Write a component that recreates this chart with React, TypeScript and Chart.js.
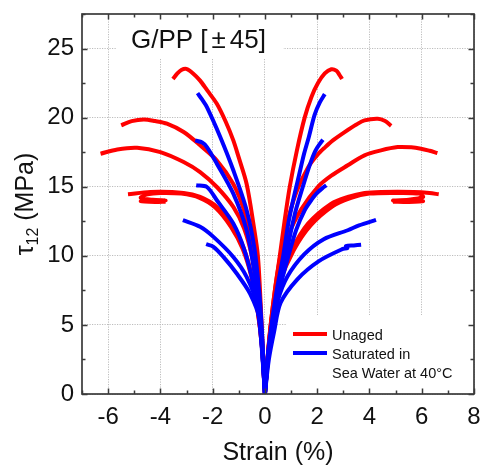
import React, { useEffect, useRef } from "react";
import { Chart, registerables } from "chart.js";

Chart.register(...registerables);

// ---- axis ranges / ticks ----
const X_MIN = -7;
const X_MAX = 8;
const Y_MIN = 0;
const Y_MAX = 27.5;
const X_STEP = 2;
const Y_STEP = 5;
const X_MINOR = 1;
const Y_MINOR = 2.5;

// ---- text ----
const PANEL_TITLE = ["G/PP [", "\u00B1", "45]"];
const X_TITLE = "Strain (%)";
const Y_TITLE_MAIN = "\u03C4";
const Y_TITLE_SUB = "12";
const Y_TITLE_REST = " (MPa)";
const LEGEND_UNAGED = "Unaged";
const LEGEND_AGED = ["Saturated in", "Sea Water at 40\u00B0C"];

const RED = "#ff0000";
const BLUE = "#0000ff";

type P = [number, number];

// ---- Unaged specimens (red): right = positive strain, left = negative strain ----
const unagedA_R: P[] = [[0, 0], [0.12, 3], [0.22, 5], [0.38, 7.5], [0.57, 10], [0.75, 12.5], [0.95, 15], [1.22, 17.6], [1.52, 20], [1.78, 21.5], [2.03, 22.5], [2.29, 23.2], [2.54, 23.5], [2.73, 23.4], [2.85, 23.1], [2.95, 22.8]];
const unagedB_R: P[] = [[0, 0], [0.14, 3.5], [0.28, 6], [0.5, 9], [0.8, 12], [1.2, 14.6], [1.65, 16.4], [2.03, 17.35], [2.3, 17.85], [2.6, 18.35], [3.05, 18.95], [3.5, 19.5], [3.81, 19.8], [4.32, 19.92], [4.6, 19.75], [4.83, 19.4]];
const unagedC_R: P[] = [[0, 0], [0.15, 3.5], [0.3, 6], [0.55, 9], [0.9, 11.5], [1.4, 13.4], [2.03, 15.0], [2.54, 15.8], [3.17, 16.55], [3.81, 17.27], [4.44, 17.63], [5.08, 17.87], [5.6, 17.85], [5.97, 17.75], [6.3, 17.6], [6.6, 17.44]];
const unagedD_R: P[] = [[0, 0], [0.15, 3.5], [0.3, 6], [0.51, 8], [1.02, 10.4], [1.65, 12.33], [2.54, 13.78], [3.17, 14.26], [3.81, 14.55], [4.44, 14.62], [5.71, 14.62], [6.3, 14.55], [6.65, 14.45]];
const unagedE_R: P[] = [[0, 0], [0.16, 3.5], [0.33, 6], [0.55, 8], [1.1, 10.4], [1.75, 12.2], [2.6, 13.6], [3.3, 14.2], [4.0, 14.5], [5.0, 14.55], [5.9, 14.5], [6.05, 14.25], [5.5, 14.05], [4.9, 14.0], [5.6, 14.0], [6.05, 13.95], [5.5, 13.9], [4.9, 13.92]];

const unagedA_L: P[] = [[0, 0], [-0.08, 3], [-0.15, 6], [-0.27, 10], [-0.44, 12.3], [-0.7, 15.2], [-1.0, 17.1], [-1.21, 18.35], [-1.5, 19.7], [-1.84, 21.0], [-2.2, 21.95], [-2.48, 22.68], [-2.75, 23.2], [-3.01, 23.53], [-3.2, 23.45], [-3.35, 23.2], [-3.52, 22.8]];
const unagedB_L: P[] = [[0, 0], [-0.12, 4.5], [-0.25, 8], [-0.5, 11], [-0.8, 13.3], [-1.21, 15.2], [-1.84, 16.9], [-2.48, 18.0], [-3.11, 18.96], [-3.75, 19.56], [-4.2, 19.75], [-4.63, 19.87], [-5.1, 19.75], [-5.5, 19.44]];
const unagedC_L: P[] = [[0, 0], [-0.12, 4], [-0.27, 7.5], [-0.5, 10], [-0.8, 12], [-1.21, 13.54], [-1.84, 14.98], [-2.48, 16.06], [-3.11, 16.79], [-4.0, 17.51], [-4.89, 17.82], [-5.65, 17.7], [-6.29, 17.39]];
const unagedD_L: P[] = [[0, 0], [-0.12, 3.5], [-0.27, 6], [-0.5, 8.5], [-0.8, 10.5], [-1.21, 12.1], [-1.84, 13.54], [-2.48, 14.26], [-3.11, 14.55], [-4.38, 14.62], [-5.24, 14.45]];
const unagedE_L: P[] = [[0, 0], [-0.12, 3.5], [-0.28, 6], [-0.52, 8.5], [-0.85, 10.5], [-1.3, 12.1], [-1.9, 13.5], [-2.5, 14.2], [-3.2, 14.5], [-4.0, 14.55], [-4.5, 14.45], [-4.75, 14.2], [-4.3, 14.05], [-3.8, 14.0], [-4.3, 13.98], [-4.75, 13.95], [-4.2, 13.9], [-3.8, 13.92]];

// ---- Saturated specimens (blue) ----
const agedA_R: P[] = [[0, 0], [0.12, 3], [0.25, 5], [0.45, 7.5], [0.7, 10], [0.89, 12.3], [1.1, 14.2], [1.3, 15.8], [1.5, 17.4], [1.68, 18.6], [1.9, 20.2], [2.1, 21.1], [2.29, 21.7]];
const agedB_R: P[] = [[0, 0], [0.13, 3], [0.28, 5], [0.5, 7.5], [0.8, 10], [1.14, 13], [1.45, 15], [1.72, 16.6], [1.93, 17.6], [2.1, 18.1], [2.22, 18.4]];
const agedC_R: P[] = [[0, 0], [0.14, 3], [0.3, 5], [0.55, 7.5], [0.9, 10], [1.2, 11.9], [1.52, 13.3], [1.8, 14.1], [1.97, 14.5], [2.2, 14.9], [2.35, 15.1]];
const agedD_R: P[] = [[0, 0], [0.15, 3], [0.32, 5], [0.5, 6.8], [0.86, 8.5], [1.5, 10.1], [2.25, 11.2], [3.17, 11.85], [3.6, 12.2], [4.25, 12.6]];
const agedE_R: P[] = [[0, 0], [0.15, 2.5], [0.35, 4.5], [0.6, 6.6], [1.24, 8.3], [2.05, 9.6], [2.98, 10.5], [3.15, 10.55], [3.1, 10.7], [3.4, 10.75], [3.68, 10.8]];

const agedA_L: P[] = [[0, 0], [-0.1, 4], [-0.2, 7], [-0.4, 10.5], [-0.7, 13.3], [-1.21, 16.19], [-1.71, 18.6], [-2.22, 20.76], [-2.4, 21.3], [-2.58, 21.77]];
const agedB_L: P[] = [[0, 0], [-0.1, 3], [-0.2, 6], [-0.42, 9], [-0.7, 11.85], [-1.21, 14.5], [-1.84, 16.67], [-2.22, 17.87], [-2.4, 18.2], [-2.67, 18.35]];
const agedC_L: P[] = [[0, 0], [-0.1, 3], [-0.22, 5.5], [-0.45, 8], [-0.8, 10.5], [-1.21, 12.34], [-1.84, 14.02], [-2.22, 14.98], [-2.63, 15.1]];
const agedD_L: P[] = [[0, 0], [-0.15, 4], [-0.32, 6.55], [-0.7, 8.48], [-1.21, 9.92], [-1.97, 11.37], [-2.48, 12.1], [-3.14, 12.58]];
const agedE_L: P[] = [[0, 0], [-0.08, 3], [-0.19, 5.35], [-0.57, 7.27], [-1.08, 8.72], [-1.59, 9.92], [-1.97, 10.65], [-2.25, 10.84]];

const UNAGED_CURVES: P[][] = [unagedA_R, unagedB_R, unagedC_R, unagedD_R, unagedE_R, unagedA_L, unagedB_L, unagedC_L, unagedD_L, unagedE_L];
const AGED_CURVES: P[][] = [agedA_R, agedB_R, agedC_R, agedD_R, agedE_R, agedA_L, agedB_L, agedC_L, agedD_L, agedE_L];

const FONT = "'Liberation Sans', Arial, Helvetica, sans-serif";
const FRAME_COLOR = "#3a3a3a";
const GRID_COLOR = "#bdbdbd";

const decorPlugin = {
  id: "decor",
  beforeDatasetsDraw(chart: any) {
    const { ctx, chartArea: ca } = chart;
    ctx.save();
    ctx.fillStyle = "#ffffff";
    // panel title backdrop
    ctx.fillRect(ca.left + 35, ca.top, 166, 45);
    // legend backdrop
    ctx.fillRect(ca.left + 205, ca.bottom - 79, ca.right - ca.left - 205, 79);
    ctx.restore();
  },
  afterDraw(chart: any) {
    const { ctx, chartArea: ca, scales } = chart;
    const xs = scales.x;
    const ys = scales.y;
    ctx.save();
    // ticks (inward on all four sides)
    ctx.strokeStyle = FRAME_COLOR;
    ctx.lineWidth = 1.5;
    ctx.beginPath();
    for (let v = X_MIN; v <= X_MAX + 1e-9; v += X_MINOR) {
      const px = Math.round(xs.getPixelForValue(v)) + 0.5;
      const len = Math.abs(v % X_STEP) < 1e-9 ? 5.5 : 3.5;
      ctx.moveTo(px, ca.bottom);
      ctx.lineTo(px, ca.bottom - len);
      ctx.moveTo(px, ca.top);
      ctx.lineTo(px, ca.top + len);
    }
    for (let v = Y_MIN; v <= Y_MAX + 1e-9; v += Y_MINOR) {
      const py = Math.round(ys.getPixelForValue(v)) + 0.5;
      const len = Math.abs(v % Y_STEP) < 1e-9 ? 5.5 : 3.5;
      ctx.moveTo(ca.left, py);
      ctx.lineTo(ca.left + len, py);
      ctx.moveTo(ca.right, py);
      ctx.lineTo(ca.right - len, py);
    }
    ctx.stroke();
    // frame
    ctx.lineWidth = 1.7;
    ctx.strokeRect(ca.left, ca.top, ca.right - ca.left, ca.bottom - ca.top);

    // panel title
    ctx.fillStyle = "#111";
    ctx.font = `26px ${FONT}`;
    ctx.textBaseline = "alphabetic";
    let tx = ca.left + 49;
    const ty = ca.top + 34;
    ctx.fillText(PANEL_TITLE[0], tx, ty);
    tx += ctx.measureText(PANEL_TITLE[0]).width + 4;
    ctx.fillText(PANEL_TITLE[1], tx, ty);
    tx += ctx.measureText(PANEL_TITLE[1]).width + 4;
    ctx.fillText(PANEL_TITLE[2], tx, ty);

    // legend
    const lx = ca.left + 211;
    const ly1 = ca.bottom - 60;
    const ly2 = ca.bottom - 41;
    ctx.lineWidth = 4;
    ctx.strokeStyle = RED;
    ctx.beginPath();
    ctx.moveTo(lx, ly1);
    ctx.lineTo(lx + 34, ly1);
    ctx.stroke();
    ctx.strokeStyle = BLUE;
    ctx.beginPath();
    ctx.moveTo(lx, ly2);
    ctx.lineTo(lx + 34, ly2);
    ctx.stroke();
    ctx.fillStyle = "#111";
    ctx.font = `14.5px ${FONT}`;
    ctx.fillText(LEGEND_UNAGED, lx + 39, ly1 + 6);
    ctx.fillText(LEGEND_AGED[0], lx + 39, ly2 + 5.5);
    ctx.fillText(LEGEND_AGED[1], lx + 39, ly2 + 24.5);

    // y-axis title with subscript
    const cy = (ca.top + ca.bottom) / 2;
    ctx.translate(33, cy);
    ctx.rotate(-Math.PI / 2);
    const big = `25px ${FONT}`;
    const small = `16px ${FONT}`;
    ctx.font = big;
    const w1 = ctx.measureText(Y_TITLE_MAIN).width;
    const w3 = ctx.measureText(Y_TITLE_REST).width;
    ctx.font = small;
    const w2 = ctx.measureText(Y_TITLE_SUB).width;
    let sx = -(w1 + w2 + w3) / 2;
    ctx.font = big;
    ctx.fillText(Y_TITLE_MAIN, sx, 0);
    sx += w1;
    ctx.font = small;
    ctx.fillText(Y_TITLE_SUB, sx, 5);
    sx += w2;
    ctx.font = big;
    ctx.fillText(Y_TITLE_REST, sx, 0);
    ctx.restore();
  },
};

export default function App() {
  const ref = useRef<HTMLCanvasElement | null>(null);
  useEffect(() => {
    if (!ref.current) return;
    const mk = (pts: P[], color: string, order: number) => ({
      data: pts.map(([x, y]) => ({ x, y })),
      borderColor: color,
      backgroundColor: color,
      borderWidth: 4,
      pointRadius: 0,
      tension: 0.3,
      fill: false,
      order,
    });
    const datasets = [
      ...AGED_CURVES.map((c) => mk(c, BLUE, 1)),
      ...UNAGED_CURVES.map((c) => mk(c, RED, 2)),
    ];
    const chart = new Chart(ref.current, {
      type: "line",
      data: { datasets },
      plugins: [decorPlugin],
      options: {
        animation: false,
        responsive: false,
        maintainAspectRatio: false,
        layout: { padding: { left: 0, right: 7, top: 14, bottom: 0 } },
        plugins: { legend: { display: false }, tooltip: { enabled: false } },
        scales: {
          x: {
            type: "linear",
            min: X_MIN,
            max: X_MAX,
            border: { display: false, dash: [1.2, 1.3] },
            grid: { color: GRID_COLOR, lineWidth: 1, drawTicks: false },
            ticks: {
              stepSize: X_STEP,
              includeBounds: false,
              padding: 9,
              color: "#111",
              font: { family: FONT, size: 24 },
            },
            title: {
              display: true,
              text: X_TITLE,
              color: "#111",
              font: { family: FONT, size: 25 },
              padding: { top: 0, bottom: 2 },
            },
            afterFit(scale: any) {
              scale.height = 76;
              scale.paddingLeft = 0;
              scale.paddingRight = 0;
            },
          },
          y: {
            type: "linear",
            min: Y_MIN,
            max: Y_MAX,
            border: { display: false, dash: [1.2, 1.3] },
            grid: { color: GRID_COLOR, lineWidth: 1, drawTicks: false },
            ticks: {
              stepSize: Y_STEP,
              includeBounds: false,
              padding: 8,
              color: "#111",
              font: { family: FONT, size: 24 },
            },
            afterFit(scale: any) {
              scale.width = 82;
              scale.paddingTop = 0;
              scale.paddingBottom = 0;
            },
          },
        },
      } as any,
    });
    return () => chart.destroy();
  }, []);
  return (
    <div style={{ position: "fixed", left: 0, top: 0, width: 481, height: 470, background: "#fff" }}>
      <canvas ref={ref} width={481} height={470} style={{ display: "block" }} />
    </div>
  );
}
